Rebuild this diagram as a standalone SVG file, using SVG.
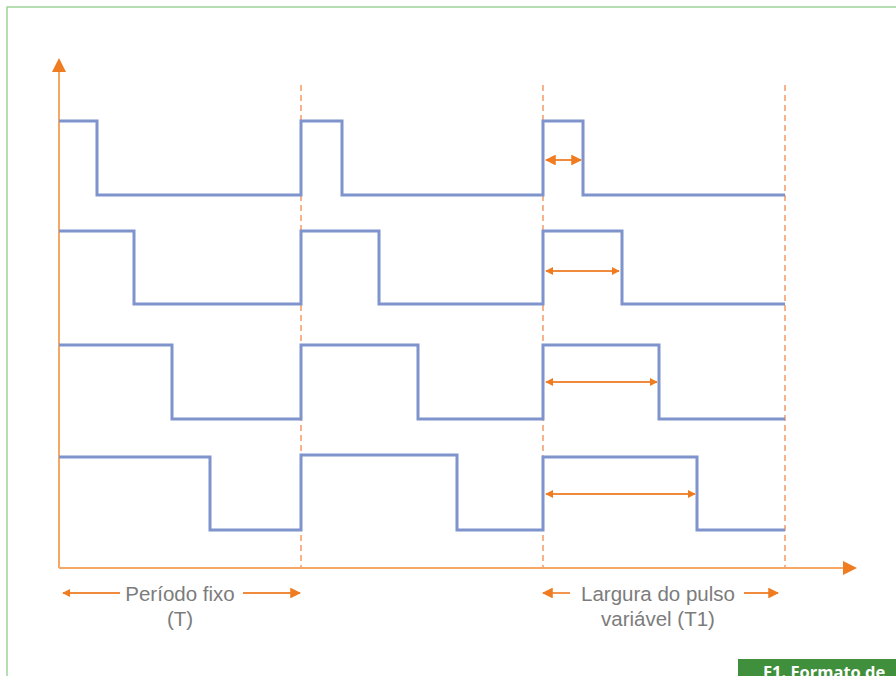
<svg xmlns="http://www.w3.org/2000/svg" width="896" height="676" viewBox="0 0 896 676">
  <style>
    .frame { fill: none; stroke: #9fd49a; stroke-width: 1.5; }
    .axis { fill: none; stroke: #f6a765; stroke-width: 2; }
    .guide { fill: none; stroke: #f4a070; stroke-width: 1.6; stroke-dasharray: 6 4; }
    .wave { fill: none; stroke: #7f94cc; stroke-width: 3; stroke-linejoin: miter; }
    .dim { stroke: #f08a3c; stroke-width: 1.8; fill: none; }
    .lbl { font-family: "Liberation Sans", Arial, sans-serif; font-size: 20.5px; fill: #7c7c7c; text-anchor: middle; }
    .cap { font-family: "Open Sans", "Liberation Sans", sans-serif; font-size: 16.5px; font-weight: bold; fill: #ffffff; }
  </style>
  <defs>
    <marker id="ah" viewBox="0 0 10 10" refX="9" refY="5" markerWidth="4.5" markerHeight="4.5" orient="auto-start-reverse">
      <path d="M0,0 L10,5 L0,10 z" fill="#f07c22"/>
    </marker>
    <marker id="ahs" viewBox="0 0 10 10" refX="9" refY="5" markerWidth="6" markerHeight="6" orient="auto-start-reverse">
      <path d="M0,0 L10,5 L0,10 z" fill="#f07c22"/>
    </marker>
  </defs>

  <rect x="0" y="0" width="896" height="676" fill="#ffffff"/>
  <path class="frame" d="M7,676 V7 H896"/>

  <!-- axes -->
  <g id="axes">
    <line class="axis" x1="59" y1="568" x2="59" y2="70"/>
    <path d="M52,72 L59,58 L66,72 z" fill="#f07c22"/>
    <line class="axis" x1="59" y1="568" x2="845" y2="568"/>
    <path d="M843,561 L857,568 L843,575 z" fill="#f07c22"/>
  </g>

  <!-- period guides -->
  <g id="guides">
    <line class="guide" x1="301" y1="85" x2="301" y2="568"/>
    <line class="guide" x1="543" y1="85" x2="543" y2="568"/>
    <line class="guide" x1="785" y1="85" x2="785" y2="568"/>
  </g>

  <!-- PWM waveforms -->
  <g id="wave1"><path class="wave" d="M59,121 H97 V195 H301 V121 H342 V195 H543 V121 H583 V195 H785"/></g>
  <g id="wave2"><path class="wave" d="M59,231 H134 V304 H301 V231 H379 V304 H543 V231 H622 V304 H785"/></g>
  <g id="wave3"><path class="wave" d="M59,345 H172 V419 H301 V345 H418 V419 H543 V345 H659 V419 H785"/></g>
  <g id="wave4"><path class="wave" d="M59,457 H210 V530 H301 V455 H457 V530 H543 V457 H697 V530 H785"/></g>

  <!-- pulse width markers -->
  <g id="connectors">
    <line class="dim" x1="546" y1="160" x2="581" y2="160" stroke-width="2.2" marker-start="url(#ahs)" marker-end="url(#ahs)"/>
    <line class="dim" x1="546" y1="271" x2="619" y2="271" marker-start="url(#ah)" marker-end="url(#ah)"/>
    <line class="dim" x1="546" y1="382" x2="657" y2="382" marker-start="url(#ah)" marker-end="url(#ah)"/>
    <line class="dim" x1="546" y1="494" x2="695" y2="494" marker-start="url(#ah)" marker-end="url(#ah)"/>
    <line class="dim" x1="63" y1="593" x2="120" y2="593" marker-start="url(#ah)"/>
    <line class="dim" x1="243" y1="593" x2="300" y2="593" marker-end="url(#ahs)"/>
    <line class="dim" x1="543" y1="593" x2="570" y2="593" marker-start="url(#ahs)"/>
    <line class="dim" x1="744" y1="593" x2="778" y2="593" marker-end="url(#ahs)"/>
  </g>

  <!-- labels -->
  <g id="label-period">
    <text class="lbl" x="180" y="601">Período fixo</text>
    <text class="lbl" x="180" y="626">(T)</text>
  </g>
  <g id="label-width">
    <text class="lbl" x="658" y="601">Largura do pulso</text>
    <text class="lbl" x="658" y="626">variável (T1)</text>
  </g>

  <g id="caption">
    <rect x="738" y="659" width="158" height="17" fill="#3f8f3c"/>
    <text class="cap" x="763" y="678">F1. Formato de</text>
  </g>
</svg>
